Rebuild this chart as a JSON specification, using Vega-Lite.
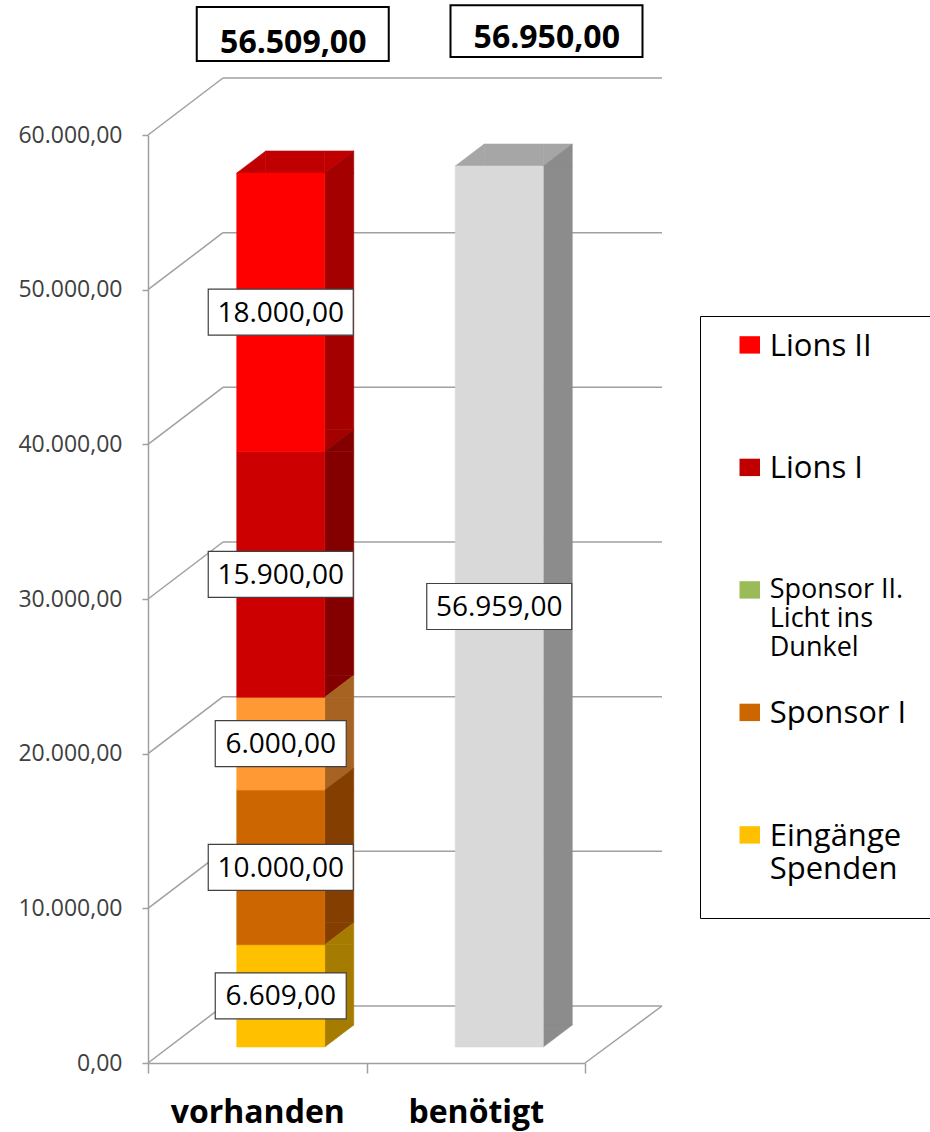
{
  "$schema": "https://vega.github.io/schema/vega-lite/v6.json",
  "width": 437,
  "height": 928,
  "autosize": {"type": "none"},
  "padding": {"left": 148, "top": 135, "right": 345, "bottom": 69},
  "background": "white",
  "datasets": {
    "bars": [
      {"cat": "vorhanden", "series": "Eingänge Spenden", "rank": 1, "value": 6609},
      {"cat": "vorhanden", "series": "Sponsor I", "rank": 2, "value": 10000},
      {"cat": "vorhanden", "series": "Sponsor II. Licht ins Dunkel", "rank": 3, "value": 6000},
      {"cat": "vorhanden", "series": "Lions I", "rank": 4, "value": 15900},
      {"cat": "vorhanden", "series": "Lions II", "rank": 5, "value": 18000},
      {"cat": "benötigt", "series": "benötigt", "rank": 1, "value": 56959}
    ],
    "grid": [{"v": 0}, {"v": 10000}, {"v": 20000}, {"v": 30000}, {"v": 40000}, {"v": 50000}, {"v": 60000}],
    "totals": [
      {"cat": "vorhanden", "total": 56509},
      {"cat": "benötigt", "total": 56950}
    ]
  },
  "resolve": {"scale": {"fill": "independent", "stroke": "independent"}},
  "layer": [
    {
      "data": {"name": "grid"},
      "mark": {"type": "rule", "color": "#A0A0A0", "strokeWidth": 1.5, "x2Offset": 75, "y2Offset": -57},
      "encoding": {
        "x": {"datum": "vorhanden", "type": "nominal", "bandPosition": 0, "scale": {"domain": ["vorhanden", "benötigt"], "paddingInner": 0, "paddingOuter": 0}, "title": null},
        "x2": {"datum": "vorhanden", "bandPosition": 0},
        "y": {"field": "v", "type": "quantitative", "scale": {"domain": [0, 60000], "nice": false}, "title": null},
        "y2": {"field": "v"}
      }
    },
    {
      "data": {"name": "grid"},
      "mark": {"type": "rule", "color": "#A0A0A0", "strokeWidth": 1.5, "xOffset": 75, "x2Offset": 77, "yOffset": -57, "y2Offset": -57},
      "encoding": {
        "x": {"datum": "vorhanden", "type": "nominal", "bandPosition": 0, "scale": {"domain": ["vorhanden", "benötigt"], "paddingInner": 0, "paddingOuter": 0}, "title": null},
        "x2": {"datum": "benötigt", "bandPosition": 1},
        "y": {"field": "v", "type": "quantitative", "scale": {"domain": [0, 60000], "nice": false}, "title": null},
        "y2": {"field": "v"}
      }
    },
    {
      "data": {"name": "grid"},
      "transform": [{"filter": "datum.v == 0"}],
      "mark": {"type": "rule", "color": "#A0A0A0", "strokeWidth": 1.5, "x2Offset": 77, "y2Offset": -57},
      "encoding": {
        "x": {"datum": "benötigt", "type": "nominal", "bandPosition": 1, "scale": {"domain": ["vorhanden", "benötigt"], "paddingInner": 0, "paddingOuter": 0}, "title": null},
        "x2": {"datum": "benötigt", "bandPosition": 1},
        "y": {"field": "v", "type": "quantitative", "scale": {"domain": [0, 60000], "nice": false}, "title": null},
        "y2": {"field": "v"}
      }
    },
    {
      "data": {"name": "bars"},
      "transform": [
        {"stack": "value", "groupby": ["cat"], "sort": [{"field": "rank", "order": "ascending"}], "as": ["v0", "v1"]},
        {"joinaggregate": [{"op": "max", "field": "v1", "as": "vtop"}], "groupby": ["cat"]},
        {"filter": "datum.v1 >= datum.vtop"}
      ],
      "mark": {"type": "bar", "width": 59, "xOffset": 38, "yOffset": -38, "y2Offset": -16, "strokeWidth": 0.6},
      "encoding": {
        "x": {"field": "cat", "type": "nominal", "scale": {"domain": ["vorhanden", "benötigt"], "paddingInner": 0, "paddingOuter": 0}, "title": null},
        "y": {"field": "v1", "type": "quantitative", "scale": {"domain": [0, 60000], "nice": false}, "title": null},
        "y2": {"field": "v1"},
        "fill": {"field": "series", "type": "nominal", "scale": {"domain": ["Eingänge Spenden", "Sponsor I", "Sponsor II. Licht ins Dunkel", "Lions I", "Lions II", "benötigt"], "range": ["#C49300", "#A35100", "#CC7A29", "#A30000", "#C00000", "#A6A6A6"]}, "legend": null},
        "stroke": {"field": "series", "type": "nominal", "scale": {"domain": ["Eingänge Spenden", "Sponsor I", "Sponsor II. Licht ins Dunkel", "Lions I", "Lions II", "benötigt"], "range": ["#C49300", "#A35100", "#CC7A29", "#A30000", "#C00000", "#A6A6A6"]}, "legend": null}
      }
    },
    {
      "data": {"name": "bars"},
      "transform": [
        {"stack": "value", "groupby": ["cat"], "sort": [{"field": "rank", "order": "ascending"}], "as": ["v0", "v1"]},
        {"joinaggregate": [{"op": "max", "field": "v1", "as": "vtop"}], "groupby": ["cat"]},
        {"filter": "datum.v1 >= datum.vtop"}
      ],
      "mark": {"type": "point", "filled": true, "opacity": 1, "size": 841, "shape": "M-1,0.7586L1,0.7586L1,-0.7586Z", "xOffset": -6, "yOffset": -27, "strokeWidth": 0.6},
      "encoding": {
        "x": {"field": "cat", "type": "nominal", "scale": {"domain": ["vorhanden", "benötigt"], "paddingInner": 0, "paddingOuter": 0}, "title": null},
        "y": {"field": "v1", "type": "quantitative", "scale": {"domain": [0, 60000], "nice": false}, "title": null},
        "fill": {"field": "series", "type": "nominal", "scale": {"domain": ["Eingänge Spenden", "Sponsor I", "Sponsor II. Licht ins Dunkel", "Lions I", "Lions II", "benötigt"], "range": ["#C49300", "#A35100", "#CC7A29", "#A30000", "#C00000", "#A6A6A6"]}, "legend": null},
        "stroke": {"field": "series", "type": "nominal", "scale": {"domain": ["Eingänge Spenden", "Sponsor I", "Sponsor II. Licht ins Dunkel", "Lions I", "Lions II", "benötigt"], "range": ["#C49300", "#A35100", "#CC7A29", "#A30000", "#C00000", "#A6A6A6"]}, "legend": null}
      }
    },
    {
      "data": {"name": "bars"},
      "transform": [
        {"stack": "value", "groupby": ["cat"], "sort": [{"field": "rank", "order": "ascending"}], "as": ["v0", "v1"]},
        {"joinaggregate": [{"op": "max", "field": "v1", "as": "vtop"}], "groupby": ["cat"]},
        {"filter": "datum.v1 >= datum.vtop"}
      ],
      "mark": {"type": "point", "filled": true, "opacity": 1, "size": 841, "shape": "M-1,0.7586L-1,-0.7586L1,-0.7586Z", "xOffset": 82, "yOffset": -27, "strokeWidth": 0.6},
      "encoding": {
        "x": {"field": "cat", "type": "nominal", "scale": {"domain": ["vorhanden", "benötigt"], "paddingInner": 0, "paddingOuter": 0}, "title": null},
        "y": {"field": "v1", "type": "quantitative", "scale": {"domain": [0, 60000], "nice": false}, "title": null},
        "fill": {"field": "series", "type": "nominal", "scale": {"domain": ["Eingänge Spenden", "Sponsor I", "Sponsor II. Licht ins Dunkel", "Lions I", "Lions II", "benötigt"], "range": ["#C49300", "#A35100", "#CC7A29", "#A30000", "#C00000", "#A6A6A6"]}, "legend": null},
        "stroke": {"field": "series", "type": "nominal", "scale": {"domain": ["Eingänge Spenden", "Sponsor I", "Sponsor II. Licht ins Dunkel", "Lions I", "Lions II", "benötigt"], "range": ["#C49300", "#A35100", "#CC7A29", "#A30000", "#C00000", "#A6A6A6"]}, "legend": null}
      }
    },
    {
      "data": {"name": "bars"},
      "transform": [
        {"stack": "value", "groupby": ["cat"], "sort": [{"field": "rank", "order": "ascending"}], "as": ["v0", "v1"]}
      ],
      "mark": {"type": "bar", "width": 29, "xOffset": 82, "yOffset": -16, "y2Offset": -38, "strokeWidth": 0.6},
      "encoding": {
        "x": {"field": "cat", "type": "nominal", "scale": {"domain": ["vorhanden", "benötigt"], "paddingInner": 0, "paddingOuter": 0}, "title": null},
        "y": {"field": "v1", "type": "quantitative", "scale": {"domain": [0, 60000], "nice": false}, "title": null},
        "y2": {"field": "v0"},
        "fill": {"field": "series", "type": "nominal", "scale": {"domain": ["Eingänge Spenden", "Sponsor I", "Sponsor II. Licht ins Dunkel", "Lions I", "Lions II", "benötigt"], "range": ["#A67C00", "#843F00", "#A66321", "#840000", "#A50000", "#8C8C8C"]}, "legend": null},
        "stroke": {"field": "series", "type": "nominal", "scale": {"domain": ["Eingänge Spenden", "Sponsor I", "Sponsor II. Licht ins Dunkel", "Lions I", "Lions II", "benötigt"], "range": ["#A67C00", "#843F00", "#A66321", "#840000", "#A50000", "#8C8C8C"]}, "legend": null}
      }
    },
    {
      "data": {"name": "bars"},
      "transform": [
        {"stack": "value", "groupby": ["cat"], "sort": [{"field": "rank", "order": "ascending"}], "as": ["v0", "v1"]}
      ],
      "mark": {"type": "point", "filled": true, "opacity": 1, "size": 841, "shape": "M-1,0.7586L-1,-0.7586L1,-0.7586Z", "xOffset": 82, "yOffset": -27, "strokeWidth": 0.6},
      "encoding": {
        "x": {"field": "cat", "type": "nominal", "scale": {"domain": ["vorhanden", "benötigt"], "paddingInner": 0, "paddingOuter": 0}, "title": null},
        "y": {"field": "v0", "type": "quantitative", "scale": {"domain": [0, 60000], "nice": false}, "title": null},
        "fill": {"field": "series", "type": "nominal", "scale": {"domain": ["Eingänge Spenden", "Sponsor I", "Sponsor II. Licht ins Dunkel", "Lions I", "Lions II", "benötigt"], "range": ["#A67C00", "#843F00", "#A66321", "#840000", "#A50000", "#8C8C8C"]}, "legend": null},
        "stroke": {"field": "series", "type": "nominal", "scale": {"domain": ["Eingänge Spenden", "Sponsor I", "Sponsor II. Licht ins Dunkel", "Lions I", "Lions II", "benötigt"], "range": ["#A67C00", "#843F00", "#A66321", "#840000", "#A50000", "#8C8C8C"]}, "legend": null}
      }
    },
    {
      "data": {"name": "bars"},
      "transform": [
        {"stack": "value", "groupby": ["cat"], "sort": [{"field": "rank", "order": "ascending"}], "as": ["v0", "v1"]}
      ],
      "mark": {"type": "point", "filled": true, "opacity": 1, "size": 841, "shape": "M-1,0.7586L1,0.7586L1,-0.7586Z", "xOffset": 82, "yOffset": -27, "strokeWidth": 0.6},
      "encoding": {
        "x": {"field": "cat", "type": "nominal", "scale": {"domain": ["vorhanden", "benötigt"], "paddingInner": 0, "paddingOuter": 0}, "title": null},
        "y": {"field": "v1", "type": "quantitative", "scale": {"domain": [0, 60000], "nice": false}, "title": null},
        "fill": {"field": "series", "type": "nominal", "scale": {"domain": ["Eingänge Spenden", "Sponsor I", "Sponsor II. Licht ins Dunkel", "Lions I", "Lions II", "benötigt"], "range": ["#A67C00", "#843F00", "#A66321", "#840000", "#A50000", "#8C8C8C"]}, "legend": null},
        "stroke": {"field": "series", "type": "nominal", "scale": {"domain": ["Eingänge Spenden", "Sponsor I", "Sponsor II. Licht ins Dunkel", "Lions I", "Lions II", "benötigt"], "range": ["#A67C00", "#843F00", "#A66321", "#840000", "#A50000", "#8C8C8C"]}, "legend": null}
      }
    },
    {
      "data": {"name": "bars"},
      "transform": [
        {"stack": "value", "groupby": ["cat"], "sort": [{"field": "rank", "order": "ascending"}], "as": ["v0", "v1"]}
      ],
      "mark": {"type": "bar", "width": 88, "xOffset": 23.5, "yOffset": -16, "y2Offset": -16, "strokeWidth": 0.6},
      "encoding": {
        "x": {"field": "cat", "type": "nominal", "scale": {"domain": ["vorhanden", "benötigt"], "paddingInner": 0, "paddingOuter": 0}, "title": null},
        "y": {"field": "v1", "type": "quantitative", "scale": {"domain": [0, 60000], "nice": false}, "title": null, "axis": {"format": ",.2f"}},
        "y2": {"field": "v0"},
        "fill": {"field": "series", "type": "nominal", "scale": {"domain": ["Eingänge Spenden", "Sponsor I", "Sponsor II. Licht ins Dunkel", "Lions I", "Lions II", "benötigt"], "range": ["#FFC000", "#CC6600", "#FF9933", "#CC0000", "#FF0000", "#D9D9D9"]}, "legend": null},
        "stroke": {"field": "series", "type": "nominal", "scale": {"domain": ["Eingänge Spenden", "Sponsor I", "Sponsor II. Licht ins Dunkel", "Lions I", "Lions II", "benötigt"], "range": ["#FFC000", "#CC6600", "#FF9933", "#CC0000", "#FF0000", "#D9D9D9"]}, "legend": null}
      }
    },
    {
      "data": {"name": "bars"},
      "mark": {"type": "point", "filled": true, "opacity": 1, "size": 21025, "fill": "#FFFFFF", "stroke": "#404040", "strokeWidth": 1.2, "xOffset": 23.5, "yOffset": -16},
      "encoding": {
        "x": {"field": "cat", "type": "nominal", "scale": {"domain": ["vorhanden", "benötigt"], "paddingInner": 0, "paddingOuter": 0}, "title": null},
        "y": {"field": "value", "type": "quantitative", "stack": "zero", "bandPosition": 0.5, "scale": {"domain": [0, 60000], "nice": false}, "title": null},
        "detail": {"field": "series"},
        "order": {"field": "rank", "type": "quantitative"},
        "shape": {"condition": {"test": "datum.value < 10000", "value": "M-0.9034,-0.3172L0.9034,-0.3172L0.9034,0.3172L-0.9034,0.3172Z"}, "value": "M-1,-0.3172L1,-0.3172L1,0.3172L-1,0.3172Z"}
      }
    },
    {
      "data": {"name": "bars"},
      "mark": {"type": "text", "font": "Open Sans", "fontSize": 28, "color": "#000000", "baseline": "middle", "align": "center", "xOffset": 23.5, "yOffset": -14.5},
      "encoding": {
        "x": {"field": "cat", "type": "nominal", "scale": {"domain": ["vorhanden", "benötigt"], "paddingInner": 0, "paddingOuter": 0}, "title": null},
        "y": {"field": "value", "type": "quantitative", "stack": "zero", "bandPosition": 0.5, "scale": {"domain": [0, 60000], "nice": false}, "title": null},
        "detail": {"field": "series"},
        "order": {"field": "rank", "type": "quantitative"},
        "text": {"field": "value", "type": "quantitative", "format": ",.2f"}
      }
    },
    {
      "data": {"name": "totals"},
      "transform": [{"filter": "datum.cat == 'vorhanden'"}],
      "mark": {"type": "point", "filled": true, "opacity": 1, "size": 36864, "shape": "M-1,-0.28125L1,-0.28125L1,0.28125L-1,0.28125Z", "fill": "#FFFFFF", "stroke": "#000000", "strokeWidth": 2, "xOffset": 35.5, "yOffset": -155},
      "encoding": {
        "x": {"field": "cat", "type": "nominal", "scale": {"domain": ["vorhanden", "benötigt"], "paddingInner": 0, "paddingOuter": 0}, "title": null},
        "y": {"field": "total", "type": "quantitative", "scale": {"domain": [0, 60000], "nice": false}, "title": null}
      }
    },
    {
      "data": {"name": "totals"},
      "transform": [{"filter": "datum.cat == 'vorhanden'"}],
      "mark": {"type": "text", "font": "Open Sans", "fontSize": 32, "fontWeight": "bold", "color": "#000000", "baseline": "middle", "align": "center", "xOffset": 36, "yOffset": -146},
      "encoding": {
        "x": {"field": "cat", "type": "nominal", "scale": {"domain": ["vorhanden", "benötigt"], "paddingInner": 0, "paddingOuter": 0}, "title": null},
        "y": {"field": "total", "type": "quantitative", "scale": {"domain": [0, 60000], "nice": false}, "title": null},
        "text": {"field": "total", "type": "quantitative", "format": ",.2f"}
      }
    },
    {
      "data": {"name": "totals"},
      "transform": [{"filter": "datum.cat == 'benötigt'"}],
      "mark": {"type": "point", "filled": true, "opacity": 1, "size": 36864, "shape": "M-1,-0.27L1,-0.27L1,0.27L-1,0.27Z", "fill": "#FFFFFF", "stroke": "#000000", "strokeWidth": 2, "xOffset": 70.75, "yOffset": -151},
      "encoding": {
        "x": {"field": "cat", "type": "nominal", "scale": {"domain": ["vorhanden", "benötigt"], "paddingInner": 0, "paddingOuter": 0}, "title": null},
        "y": {"field": "total", "type": "quantitative", "scale": {"domain": [0, 60000], "nice": false}, "title": null}
      }
    },
    {
      "data": {"name": "totals"},
      "transform": [{"filter": "datum.cat == 'benötigt'"}],
      "mark": {"type": "text", "font": "Open Sans", "fontSize": 32, "fontWeight": "bold", "color": "#000000", "baseline": "middle", "align": "center", "xOffset": 71, "yOffset": -144},
      "encoding": {
        "x": {"field": "cat", "type": "nominal", "scale": {"domain": ["vorhanden", "benötigt"], "paddingInner": 0, "paddingOuter": 0}, "title": null},
        "y": {"field": "total", "type": "quantitative", "scale": {"domain": [0, 60000], "nice": false}, "title": null},
        "text": {"field": "total", "type": "quantitative", "format": ",.2f"}
      }
    },
    {
      "data": {"name": "bars"},
      "transform": [{"filter": "false"}],
      "mark": {"type": "square", "filled": true, "opacity": 1},
      "encoding": {
        "fill": {
          "field": "series",
          "type": "nominal",
          "scale": {"domain": ["Lions II", "Lions I", "Sponsor II. Licht ins Dunkel", "Sponsor I", "Eingänge Spenden"], "range": ["#FF0000", "#C00000", "#9BBB59", "#CC6600", "#FFC000"]},
          "legend": {
            "title": "\u00a0",
            "titleOrient": "right",
            "titleFontSize": 20,
            "titlePadding": 30,
            "orient": "none",
            "legendX": 552,
            "legendY": 181,
            "direction": "vertical",
            "padding": 0,
            "strokeColor": "#000000",
            "fillColor": "#FFFFFF",
            "symbolType": "M-2.5625,1.175L2.5625,1.175L2.5625,5.525L-2.5625,5.525Z",
            "symbolSize": 64,
            "symbolStrokeWidth": 0,
            "symbolOffset": 34.25,
            "labelOffset": 4.5,
            "labelFont": "Open Sans",
            "labelFontSize": {"expr": "datum.value == 'Sponsor II. Licht ins Dunkel' ? 27 : 31"},
            "labelColor": "#000000",
            "labelBaseline": "top",
            "labelLimit": 400,
            "gridAlign": "all",
            "rowPadding": 10.5,
            "labelExpr": "datum.label == 'Sponsor II. Licht ins Dunkel' ? ['Sponsor II.', 'Licht ins', 'Dunkel'] : datum.label == 'Eingänge Spenden' ? ['Eingänge', 'Spenden', ' '] : datum.label"
          }
        }
      }
    }
  ],
  "config": {
    "view": {"stroke": null},
    "font": "Open Sans",
    "locale": {"number": {"decimal": ",", "thousands": ".", "grouping": [3], "currency": ["", " €"]}},
    "axisX": {"domainColor": "#A0A0A0", "domainWidth": 1.5, "tickColor": "#A0A0A0", "tickWidth": 1.5, "tickSize": 10, "tickBand": "extent", "labelFont": "Open Sans", "labelFontSize": 32, "labelFontWeight": "bold", "labelColor": "#000000", "labelPadding": 24, "labelAngle": 0, "grid": false},
    "axisY": {"domainColor": "#A0A0A0", "domainWidth": 1.5, "tickColor": "#A0A0A0", "tickWidth": 1.5, "tickSize": 6, "labelFont": "Open Sans", "labelFontSize": 23, "labelColor": "#404040", "labelPadding": 20, "grid": false, "tickCount": 6}
  }
}
